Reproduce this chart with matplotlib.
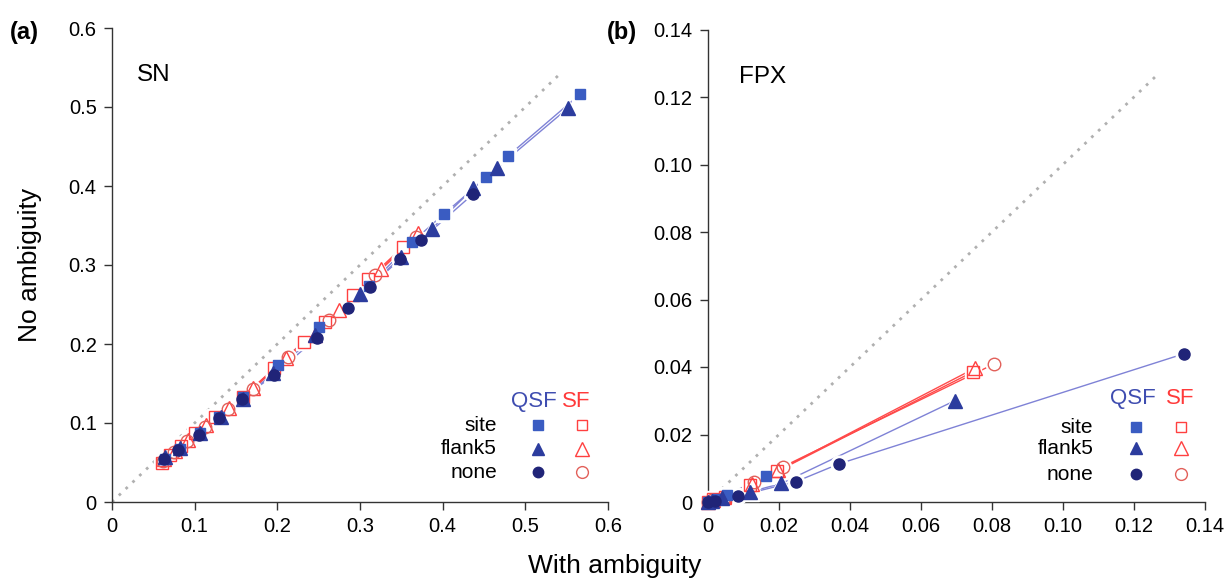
import numpy as np
import matplotlib
matplotlib.use("Agg")
import matplotlib.pyplot as plt

plt.rcParams['font.family'] = ['Liberation Sans', 'DejaVu Sans']

# ---- data ----
# panel (a) SN
a_qsf_site_x = [0.064, 0.082, 0.107, 0.130, 0.159, 0.201, 0.251, 0.311, 0.363, 0.402, 0.453, 0.479, 0.566]
a_qsf_site_y = [0.054, 0.067, 0.087, 0.107, 0.133, 0.173, 0.222, 0.274, 0.329, 0.365, 0.411, 0.438, 0.516]
a_qsf_flank_x = [0.064, 0.082, 0.106, 0.132, 0.159, 0.195, 0.246, 0.300, 0.350, 0.387, 0.437, 0.466, 0.552]
a_qsf_flank_y = [0.057, 0.068, 0.087, 0.107, 0.131, 0.163, 0.211, 0.263, 0.310, 0.346, 0.397, 0.423, 0.499]
a_qsf_none_x = [0.063, 0.080, 0.105, 0.130, 0.157, 0.196, 0.248, 0.286, 0.312, 0.348, 0.374, 0.437]
a_qsf_none_y = [0.055, 0.066, 0.085, 0.106, 0.130, 0.161, 0.208, 0.245, 0.272, 0.307, 0.332, 0.390]
a_sf_site_x = [0.060, 0.070, 0.084, 0.100, 0.125, 0.158, 0.196, 0.232, 0.258, 0.292, 0.310, 0.352]
a_sf_site_y = [0.050, 0.060, 0.071, 0.087, 0.108, 0.133, 0.169, 0.203, 0.228, 0.262, 0.282, 0.323]
a_sf_flank_x = [0.063, 0.076, 0.092, 0.114, 0.141, 0.171, 0.211, 0.246, 0.274, 0.326, 0.370]
a_sf_flank_y = [0.054, 0.064, 0.078, 0.097, 0.119, 0.144, 0.182, 0.212, 0.243, 0.295, 0.340]
a_sf_none_x = [0.062, 0.075, 0.091, 0.112, 0.140, 0.170, 0.213, 0.262, 0.318, 0.368]
a_sf_none_y = [0.052, 0.063, 0.077, 0.095, 0.118, 0.143, 0.183, 0.230, 0.287, 0.336]

# panel (b) FPX
b_qsf_site_x = [0.0, 0.0010, 0.0025, 0.0053, 0.0163]
b_qsf_site_y = [0.0, 0.0003, 0.0008, 0.0021, 0.0077]
b_qsf_flank_x = [0.0, 0.0012, 0.0040, 0.0118, 0.0207, 0.0695]
b_qsf_flank_y = [0.0, 0.0003, 0.0012, 0.0030, 0.0055, 0.0300]
b_qsf_none_x = [0.0, 0.0020, 0.0085, 0.0247, 0.0369, 0.1340]
b_qsf_none_y = [0.0, 0.0004, 0.0018, 0.0060, 0.0113, 0.0439]
b_sf_site_x = [0.0, 0.0015, 0.0048, 0.0118, 0.0195, 0.0747]
b_sf_site_y = [0.0, 0.0008, 0.0014, 0.0050, 0.0091, 0.0386]
b_sf_flank_x = [0.0, 0.0013, 0.0045, 0.0125, 0.0198, 0.0751]
b_sf_flank_y = [0.0, 0.0006, 0.0015, 0.0053, 0.0094, 0.0396]
b_sf_none_x = [0.0, 0.0012, 0.0048, 0.0129, 0.0212, 0.0806]
b_sf_none_y = [0.0, 0.0006, 0.0016, 0.0058, 0.0105, 0.0409]

a_ticks = [0, 0.1, 0.2, 0.3, 0.4, 0.5, 0.6]
a_labels = ['0', '0.1', '0.2', '0.3', '0.4', '0.5', '0.6']
b_ticks = [0, 0.02, 0.04, 0.06, 0.08, 0.10, 0.12, 0.14]
b_labels = ['0', '0.02', '0.04', '0.06', '0.08', '0.10', '0.12', '0.14']

row_names = ['site', 'flank5', 'none']

# styles
QSF_TXT = '#3f4db0'
SF_TXT = '#ff3a3a'
QSF_LINE = '#7f82d6'
SF_LINE = '#ff4a4a'
qsf_cols = ['#3a5cc2', '#2c3c9e', '#202478']
sf_cols = ['#ff4040', '#ff4040', '#e2605a']
markers = ['s', '^', 'o']
msizes = [7, 9.5, 8]


def draw_panel(ax, qsf, sf, lim, ticks, labels):
    # diagonal reference
    ax.plot([0, 0.9 * lim], [0, 0.9 * lim], ls=(0, (1, 2.4)), color='#b0b0b0', lw=2.0, zorder=1)
    series = [(x, y, QSF_LINE, qsf_cols[i], markers[i], msizes[i], True) for i, (x, y) in enumerate(qsf)]
    series += [(x, y, SF_LINE, sf_cols[i], markers[i], msizes[i], False) for i, (x, y) in enumerate(sf)]
    for x, y, lc, mc, m, ms, filled in series:
        ax.plot(x, y, color=lc, lw=1.0, zorder=2)
    # white halos to get gapped lines like type="b"
    for x, y, lc, mc, m, ms, filled in series:
        ax.plot(x, y, ls='none', marker=m, ms=ms + 4, mfc='white', mec='white', zorder=3, clip_on=False)
    for x, y, lc, mc, m, ms, filled in series:
        if filled:
            ax.plot(x, y, ls='none', marker=m, ms=ms, mfc=mc, mec=mc, zorder=5, clip_on=False)
        else:
            ax.plot(x, y, ls='none', marker=m, ms=ms + 1, mfc='none', mec=mc, mew=1.0, zorder=4, clip_on=False)

    ax.set_xlim(0, lim)
    ax.set_ylim(0, lim)
    ax.set_xticks(ticks)
    ax.set_xticklabels(labels)
    ax.set_yticks(ticks)
    ax.set_yticklabels(labels)
    for s in ['top', 'right']:
        ax.spines[s].set_visible(False)
    for s in ['left', 'bottom']:
        ax.spines[s].set_color('#333333')
        ax.spines[s].set_linewidth(1.0)
    ax.tick_params(direction='out', length=6, width=1.0, color='#333333', labelsize=14.5, pad=5)


def draw_key(ax, lab_x, blue_x, red_x, qsf_x, sf_x, head_y, row_y):
    ax.text(qsf_x, head_y, 'QSF', color=QSF_TXT, fontsize=16, ha='center', va='center', transform=ax.transAxes)
    ax.text(sf_x, head_y, 'SF', color=SF_TXT, fontsize=16, ha='center', va='center', transform=ax.transAxes)
    for i, name in enumerate(row_names):
        ax.text(lab_x, row_y[i], name, fontsize=15, ha='right', va='center', transform=ax.transAxes)
        ax.plot([blue_x], [row_y[i]], marker=markers[i], ms=msizes[i] - 0.5, color=qsf_cols[i],
                ls='none', transform=ax.transAxes, clip_on=False)
        ax.plot([red_x], [row_y[i]], marker=markers[i], ms=msizes[i] + 0.5, mfc='none', mec=sf_cols[i],
                mew=1.0, ls='none', transform=ax.transAxes, clip_on=False)


fig = plt.figure(figsize=(12.28, 5.82), dpi=100)
ax1 = fig.add_axes([112 / 1228, 80 / 582, 496 / 1228, 474 / 582])
ax2 = fig.add_axes([708 / 1228, 80 / 582, 497 / 1228, 472.5 / 582])

draw_panel(ax1,
           [(a_qsf_site_x, a_qsf_site_y), (a_qsf_flank_x, a_qsf_flank_y), (a_qsf_none_x, a_qsf_none_y)],
           [(a_sf_site_x, a_sf_site_y), (a_sf_flank_x, a_sf_flank_y), (a_sf_none_x, a_sf_none_y)],
           0.6, a_ticks, a_labels)
draw_panel(ax2,
           [(b_qsf_site_x, b_qsf_site_y), (b_qsf_flank_x, b_qsf_flank_y), (b_qsf_none_x, b_qsf_none_y)],
           [(b_sf_site_x, b_sf_site_y), (b_sf_flank_x, b_sf_flank_y), (b_sf_none_x, b_sf_none_y)],
           0.14, b_ticks, b_labels)

draw_key(ax1, 0.776, 0.859, 0.948, 0.851, 0.935, 0.213, [0.162, 0.112, 0.063])
draw_key(ax2, 0.775, 0.861, 0.952, 0.855, 0.950, 0.219, [0.158, 0.114, 0.059])

ax1.text(0.05, 0.90, 'SN', fontsize=17.5, ha='left', va='center', transform=ax1.transAxes)
ax2.text(0.062, 0.90, 'FPX', fontsize=17.5, ha='left', va='center', transform=ax2.transAxes)

fig.text(10 / 1228, 1 - 32 / 582, '(a)', fontsize=17, fontweight='bold', ha='left', va='center')
fig.text(607 / 1228, 1 - 32 / 582, '(b)', fontsize=17, fontweight='bold', ha='left', va='center')
fig.text(30 / 1228, 1 - 265 / 582, 'No ambiguity', fontsize=19, rotation=90, ha='center', va='center')
fig.text(615 / 1228, 1 - 566 / 582, 'With ambiguity', fontsize=19, ha='center', va='center')

fig.savefig('out.png', dpi=100)
